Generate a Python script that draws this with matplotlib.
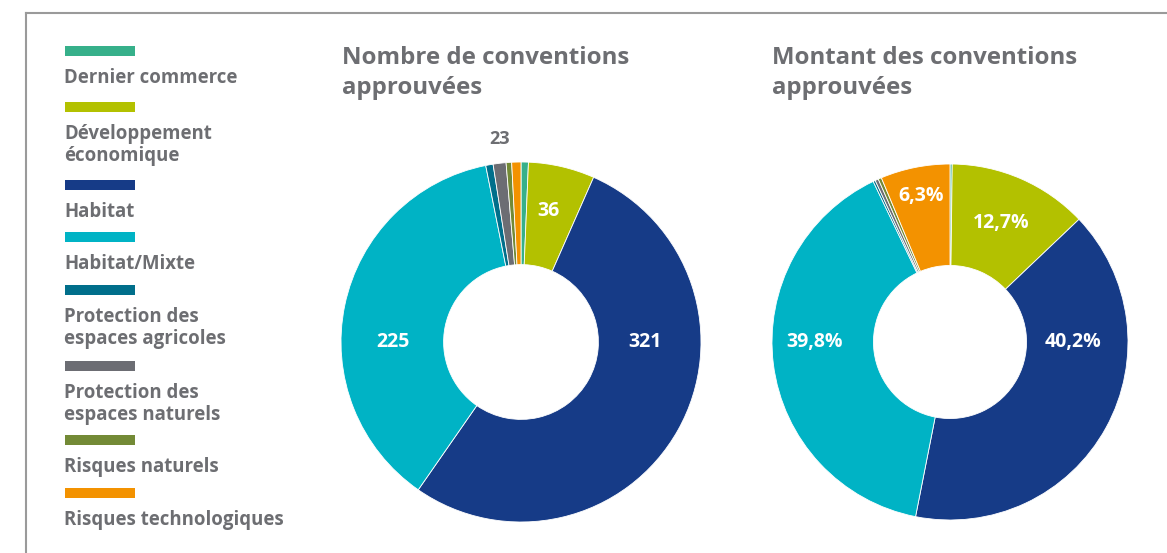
import matplotlib
matplotlib.use("Agg")
import matplotlib.pyplot as plt
from matplotlib.patches import Rectangle
from matplotlib.lines import Line2D

categories = ["Dernier commerce", "Développement\néconomique", "Habitat", "Habitat/Mixte",
              "Protection des\nespaces agricoles", "Protection des\nespaces naturels",
              "Risques naturels", "Risques technologiques"]
colors = ["#36b08a", "#b3c100", "#163b87", "#00b3c5", "#006f8b", "#6c6d73", "#738a36", "#f39200"]

# Nombre de conventions approuvées
nombre = [4, 36, 321, 225, 4, 7, 3, 5]
nombre_labels = ["", "36", "321", "225", "", "", "", ""]
# Montant des conventions approuvées (%)
montant = [0.2, 12.7, 40.2, 39.8, 0.2, 0.3, 0.3, 6.3]
montant_labels = ["", "12,7%", "40,2%", "39,8%", "", "", "", "6,3%"]
small_total_label = "23"

titles = ["Nombre de conventions\napprouvées", "Montant des conventions\napprouvées"]

W, H = 1167, 553
fig = plt.figure(figsize=(W / 100, H / 100), dpi=100)
plt.rcParams['font.family'] = ['Open Sans', 'DejaVu Sans']
gray = "#6d6e72"

# frame lines
fig.add_artist(Line2D([26 / W, 1], [1 - 13 / H, 1 - 13 / H], color="#9a9a9a", lw=1.5))
fig.add_artist(Line2D([26 / W, 26 / W], [0, 1 - 13 / H], color="#9a9a9a", lw=1.5))

# legend
bar_y = [51, 107, 185, 237, 290, 366, 440, 493]
for cat, col, by in zip(categories, colors, bar_y):
    fig.add_artist(Rectangle((65 / W, 1 - (by + 5) / H), 70 / W, 10 / H,
                             transform=fig.transFigure, color=col, lw=0))
    fig.text(64 / W, 1 - (by + 17) / H, cat, ha="left", va="top", fontsize=13.4,
             fontweight="bold", color=gray, linespacing=1.12)


def donut(cx, cy, r, values, labels, label_pos, title, title_x):
    ext = 1.05
    ax = fig.add_axes([(cx - ext * r) / W, 1 - (cy + ext * r) / H, 2 * ext * r / W, 2 * ext * r / H])
    ax.pie(values, colors=colors, startangle=90, counterclock=False, radius=1,
           wedgeprops=dict(width=0.57, edgecolor="white", linewidth=0.6))
    ax.set_xlim(-ext, ext)
    ax.set_ylim(-ext, ext)
    ax.set_aspect("equal")
    ax.axis("off")
    for lab, pos in zip(labels, label_pos):
        if lab:
            ax.text(pos[0], pos[1], lab, ha="center", va="center", color="white",
                    fontsize=14, fontweight="bold")
    fig.text(title_x / W, 1 - 46 / H, title, ha="left", va="top", fontsize=17.3,
             fontweight="bold", color=gray, linespacing=1.32)
    return ax


ax1 = donut(521, 342, 180, nombre, nombre_labels,
            [None, (0.15, 0.73), (0.69, 0.0), (-0.71, 0.0), None, None, None, None],
            titles[0], 342)
ax1.text(-0.117, 1.13, small_total_label, ha="center", va="center", color=gray,
         fontsize=13, fontweight="bold")

ax2 = donut(950, 342, 178, montant, montant_labels,
            [None, (0.29, 0.67), (0.69, 0.0), (-0.76, 0.0), None, None, None, (-0.16, 0.82)],
            titles[1], 772)

fig.savefig("out.png", dpi=100, facecolor="white")
